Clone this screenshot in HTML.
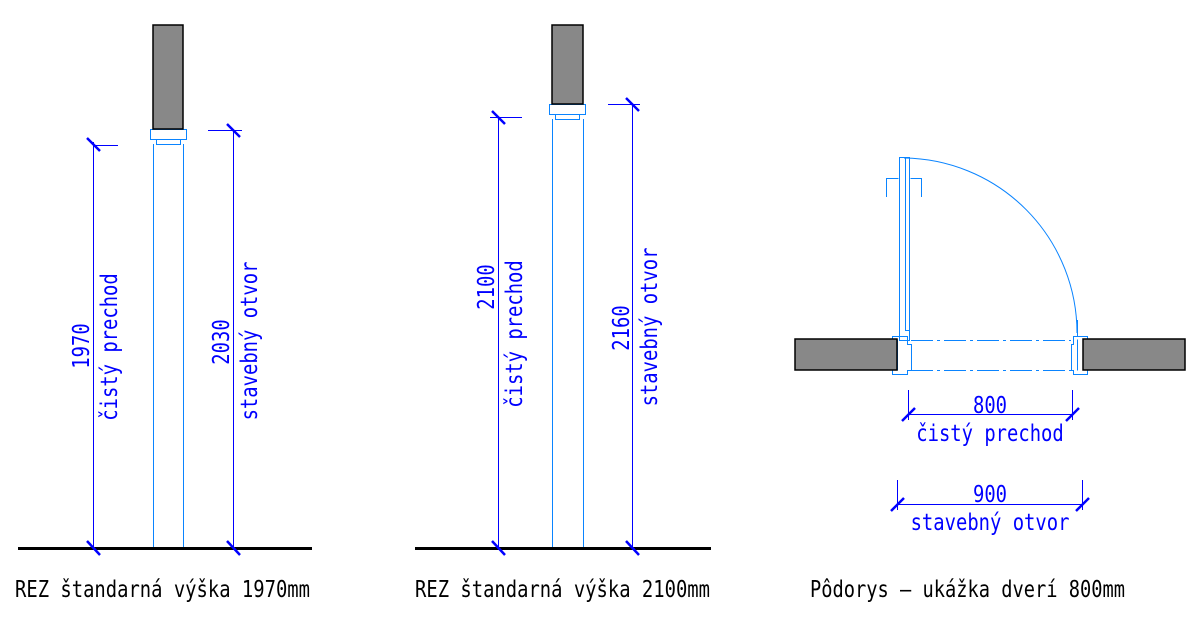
<!DOCTYPE html>
<html><head><meta charset="utf-8"><style>
html,body{margin:0;padding:0;background:#fff;}
svg{display:block}
text{font-family:"DejaVu Sans Mono","Liberation Mono",monospace;font-size:23px;}
</style></head><body>
<svg width="1200" height="635" viewBox="0 0 1200 635" xmlns="http://www.w3.org/2000/svg">
<g fill="none" stroke="#0a84ff" stroke-width="1">
<rect x="150.5" y="129.5" width="36" height="10"/>
<rect x="156.5" y="139.5" width="24" height="5"/>
<line x1="153.5" y1="144" x2="153.5" y2="548"/>
<line x1="183.5" y1="144" x2="183.5" y2="548"/>
<rect x="549.5" y="104.5" width="36" height="10"/>
<rect x="555.5" y="114.5" width="24" height="5"/>
<line x1="552.5" y1="119" x2="552.5" y2="548"/>
<line x1="583.5" y1="119" x2="583.5" y2="548"/>
<path d="M899.5 157.5 H905.5 V330.5 H909.5 V340.5 H899.5 Z"/>
<path d="M903.5 157.5 H909.5 V331"/>
<path d="M886.5 197 V178.5 H898.5 M910.5 178.5 H921.5 V197"/>
<path d="M904 158 A175 175 0 0 1 1077 333"/>
<line x1="1077.5" y1="320" x2="1077.5" y2="336"/>
<path d="M892.5 336.5 H907.5 V344.5 H911.5 V370.5 H907.5 V374.5 H892.5 Z"/>
<path d="M897.5 339.5 V370.5"/>
<path d="M1087.5 336.5 H1073.5 V344.5 H1071.5 V370.5 H1073.5 V374.5 H1087.5 Z"/>
<path d="M1077.5 339.5 V370.5"/>
<line x1="911" y1="340.5" x2="1071" y2="340.5" stroke-dasharray="22,4,3,4"/>
<line x1="911" y1="370.5" x2="1071" y2="370.5" stroke-dasharray="22,4,3,4"/>
</g>
<g fill="#888" stroke="#000" stroke-width="1.5">
<rect x="153" y="25" width="30" height="104"/>
<rect x="552" y="25" width="31" height="79"/>
<rect x="795" y="339" width="102" height="31"/>
<rect x="1083" y="339" width="102" height="31"/>
</g>
<g stroke="#000" stroke-width="3">
<line x1="18" y1="548.5" x2="312" y2="548.5"/>
<line x1="415" y1="548.5" x2="711" y2="548.5"/>
</g>
<g stroke="#0000ff" stroke-width="1">
<line x1="93.5" y1="142" x2="93.5" y2="548"/><line x1="93" y1="145.5" x2="118" y2="145.5"/>
<line x1="233.5" y1="130" x2="233.5" y2="548"/><line x1="208" y1="130.5" x2="242" y2="130.5"/>
<line x1="498.5" y1="117" x2="498.5" y2="548"/><line x1="490" y1="117.5" x2="522" y2="117.5"/>
<line x1="632.5" y1="104" x2="632.5" y2="548"/><line x1="608" y1="104.5" x2="640" y2="104.5"/>
<line x1="908.5" y1="390" x2="908.5" y2="420"/><line x1="1072.5" y1="390" x2="1072.5" y2="420"/><line x1="908" y1="414.5" x2="1072" y2="414.5"/>
<line x1="897.5" y1="480" x2="897.5" y2="510"/><line x1="1082.5" y1="480" x2="1082.5" y2="510"/><line x1="897" y1="504.5" x2="1083" y2="504.5"/>
</g>
<g stroke="#0000ff" stroke-width="2.5">
<line x1="87" y1="138" x2="100" y2="151"/><line x1="87" y1="541" x2="100" y2="555"/>
<line x1="227" y1="124" x2="240" y2="137"/><line x1="227" y1="541" x2="240" y2="555"/>
<line x1="492" y1="111" x2="505" y2="124"/><line x1="492" y1="541" x2="505" y2="555"/>
<line x1="626" y1="98" x2="639" y2="111"/><line x1="626" y1="541" x2="639" y2="555"/>
<line x1="902" y1="421" x2="915" y2="408"/><line x1="1066" y1="421" x2="1079" y2="408"/>
<line x1="891" y1="511" x2="904" y2="498"/><line x1="1076" y1="511" x2="1089" y2="498"/>
</g>
<g fill="#0000ff" text-anchor="middle">
<text transform="translate(89,346) rotate(-90) scale(0.82,1)">1970</text>
<text transform="translate(117,347) rotate(-90) scale(0.82,1)">čistý prechod</text>
<text transform="translate(229,342) rotate(-90) scale(0.82,1)">2030</text>
<text transform="translate(257,341) rotate(-90) scale(0.82,1)">stavebný otvor</text>
<text transform="translate(494,287) rotate(-90) scale(0.82,1)">2100</text>
<text transform="translate(522,334) rotate(-90) scale(0.82,1)">čistý prechod</text>
<text transform="translate(629,328) rotate(-90) scale(0.82,1)">2160</text>
<text transform="translate(657,327) rotate(-90) scale(0.82,1)">stavebný otvor</text>
<text transform="translate(990,413) scale(0.82,1)">800</text>
<text transform="translate(990,441) scale(0.82,1)">čistý prechod</text>
<text transform="translate(990,502) scale(0.82,1)">900</text>
<text transform="translate(990,530) scale(0.82,1)">stavebný otvor</text>
</g>
<g fill="#000">
<text transform="translate(15,597) scale(0.82,1)">REZ štandarná výška 1970mm</text>
<text transform="translate(415,597) scale(0.82,1)">REZ štandarná výška 2100mm</text>
<text x="810" y="597" textLength="315" lengthAdjust="spacingAndGlyphs">Pôdorys – ukážka dverí 800mm</text>
</g>
</svg>
</body></html>
